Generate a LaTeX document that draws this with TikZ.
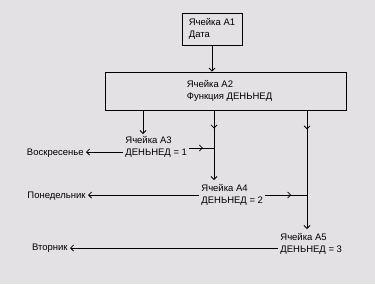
\documentclass[tikz,border=0pt]{standalone}
\usepackage{fontspec}
\setmainfont{Liberation Sans}
\usetikzlibrary{positioning,calc,arrows.meta,decorations.markings}
\definecolor{panelgray}{RGB}{227,225,228}

\tikzset{
  tip/.style={-{Straight Barb[length=3pt,width=6pt]}},
  midtip/.style={postaction={decorate},
    decoration={markings,mark=at position #1 with {\arrow{Straight Barb[length=3pt,width=6pt]}}}},
  cellbox/.style={draw, rectangle, line width=0.8pt, align=left, inner sep=0pt},
  celltext/.style={align=left, inner sep=2pt, anchor=west},
  daytext/.style={inner sep=2pt, anchor=east}
}

\begin{document}
\begin{tikzpicture}[x=1pt, y=-1pt, line width=0.8pt,
                    font=\fontsize{9.5}{12}\selectfont]
  \fill[panelgray] (0,0) rectangle (375,284);
  \useasboundingbox (0,0) rectangle (375,284);

  % cells
  \node[cellbox, minimum width=60pt, minimum height=32pt] (a1) at (212,29)
    {Ячейка A1\\ Дата};
  \node[cellbox, minimum width=241pt, minimum height=38pt] (a2) at (225.5,91)
    {\hspace*{8pt}Ячейка A2\\\hspace*{8pt}Функция ДЕНЬНЕД};
  \node[celltext] (a3) at (123,147) {Ячейка A3\\ДЕНЬНЕД = 1};
  \node[celltext] (a4) at (199,195) {Ячейка A4\\ДЕНЬНЕД = 2};
  \node[celltext] (a5) at (278,244) {Ячейка A5\\ДЕНЬНЕД = 3};

  % results
  \node[daytext] (sun) at (86,153) {Воскресенье};
  \node[daytext] (mon) at (88,196) {Понедельник};
  \node[daytext] (tue) at (70,248) {Вторник};

  % junctions
  \coordinate (d3) at (143,134);
  \coordinate (j4) at (214,180);
  \coordinate (j5) at (307,229);

  \draw[tip] (a1.south -| 212,0) -- (a2.north -| 212,0);
  \draw[tip] (a2.south -| d3) -- (d3);
  \draw[tip, midtip=0.26] (a2.south -| j4) -- (j4);
  \draw[tip, midtip=0.16] (a2.south -| j5) -- (j5);

  \draw[midtip=0.55] ([yshift=-1pt]a3.east) -- ([yshift=-1pt]a3.east -| j4);
  \draw[midtip=0.62] (a4.east) -- (a4.east -| j5);

  \draw[tip] (a3.west |- 0,152) -- (sun.east |- 0,152);
  \draw[tip] (a4.west) -- (mon.east |- a4.west);
  \draw[tip] (a5.west |- 0,248) -- (tue.east |- 0,248);
\end{tikzpicture}
\end{document}
